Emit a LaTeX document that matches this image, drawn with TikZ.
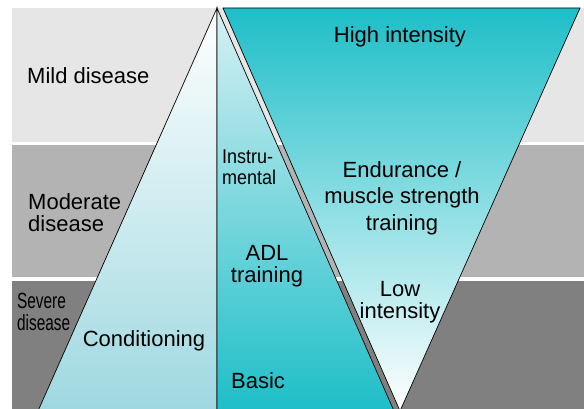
\documentclass[tikz,border=0pt]{standalone}
\usepackage{fontspec}
\setmainfont{Liberation Sans}
\usetikzlibrary{positioning}

\definecolor{mildgrey}{RGB}{230,230,230}
\definecolor{modgrey}{RGB}{179,179,179}
\definecolor{sevgrey}{RGB}{128,128,128}
\definecolor{teal}{RGB}{30,190,200}
\definecolor{condcyan}{RGB}{158,216,224}
\definecolor{adltop}{RGB}{215,240,243}

\tikzset{
  lbl/.style={font=\fontsize{22}{21.5}\selectfont, inner sep=0pt, align=center},
  lbll/.style={lbl, align=left},
  outline/.style={draw=black, line width=0.7pt}
}

\begin{document}
\begin{tikzpicture}[x=1pt, y=-1pt]
    \useasboundingbox (0,0) rectangle (584,409);

    % Disease bands
    \fill[mildgrey] (12,8) rectangle (584,142);
    \fill[modgrey] (12,145) rectangle (584,277);
    \fill[sevgrey] (12,281) rectangle (584,411);

    % Corners of the two triangles
    \coordinate (apex) at (217,8);
    \coordinate (lbase) at (38,411);
    \coordinate (mbase) at (217,411);
    \coordinate (rbase) at (394,411);
    \coordinate (itl) at (223,8);
    \coordinate (itr) at (580,8);
    \coordinate (iapex) at (400,411);

    % Upright triangle: conditioning and ADL
    \shadedraw[outline, top color=white, bottom color=condcyan] (apex) -- (lbase) -- (mbase) -- cycle;
    \shadedraw[outline, top color=adltop, bottom color=teal] (apex) -- (mbase) -- (rbase) -- cycle;

    % Inverted triangle: training intensity
    \shadedraw[outline, top color=teal, bottom color=white] (itl) -- (itr) -- (iapex) -- cycle;

    % Band labels (multi-line nodes sit on their last baseline)
    \node[lbll, anchor=base west] (mild) at (27,84) {Mild disease};
    \node[lbll, anchor=base west] (moderate) at (28,231) {Moderate\\disease};
    \node[lbll, anchor=base west, xscale=0.7] (severe) at (17,330) {Severe\\disease};

    % Triangle labels
    \node[lbl, anchor=base] (cond) at (144,346) {Conditioning};
    \node[lbll, anchor=base west, font=\fontsize{20}{21.5}\selectfont, xscale=0.9] (instr) at (222,185) {Instru-\\mental};
    \node[lbl, anchor=base] (adl) at (267,282) {ADL\\training};
    \node[lbll, anchor=base west] (basic) at (231,388) {Basic};
    \node[lbl, anchor=base] (high) at (400,43) {High intensity};
    \node[lbl, anchor=base, font=\fontsize{22}{26.5}\selectfont] (endur) at (402,230) {Endurance /\\muscle strength\\training};
    \node[lbl, anchor=base] (low) at (400,318) {Low\\intensity};
\end{tikzpicture}
\end{document}
